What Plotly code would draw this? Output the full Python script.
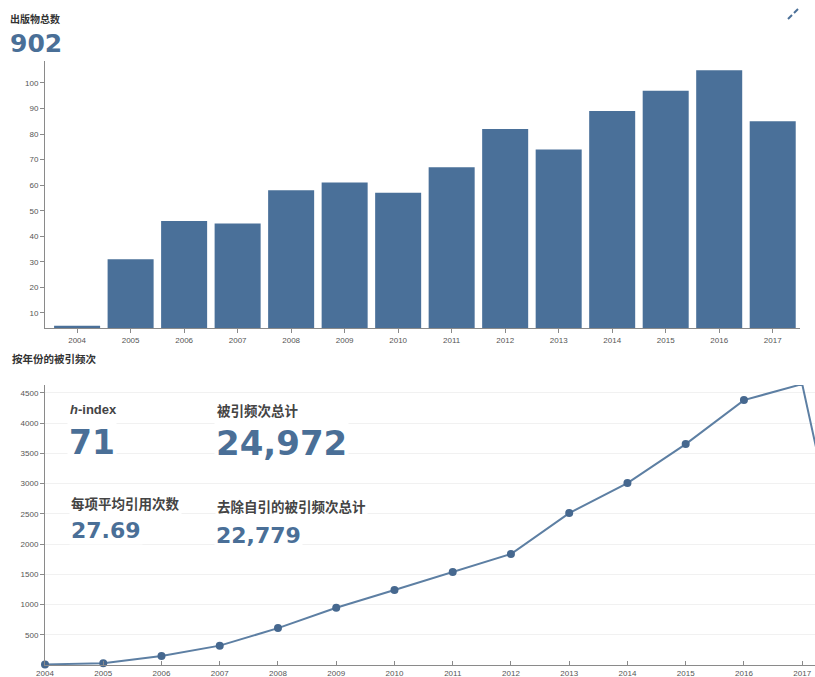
import plotly.graph_objects as go

W, H = 815, 677

# ---- data ----
pub_years = ["2004", "2005", "2006", "2007", "2008", "2009", "2010",
             "2011", "2012", "2013", "2014", "2015", "2016", "2017"]
pub_counts = [5, 31, 46, 45, 58, 61, 57, 67, 82, 74, 89, 97, 105, 85]

cite_years = [2004, 2005, 2006, 2007, 2008, 2009, 2010, 2011, 2012,
              2013, 2014, 2015, 2016, 2017, 2018]
cite_counts = [10, 30, 150, 320, 610, 947, 1240, 1537, 1835,
               2512, 3008, 3653, 4380, 4645, 250]

pub_ticks = [10, 20, 30, 40, 50, 60, 70, 80, 90, 100]
cite_ticks = [500, 1000, 1500, 2000, 2500, 3000, 3500, 4000, 4500]
cite_xticks = list(range(2004, 2018))

total_pubs = "902"
h_index = "71"
total_cites = "24,972"
avg_cites = "27.69"
nonself_cites = "22,779"

title_pubs = "出版物总数"
title_cites = "按年份的被引频次"
lbl_h = "<i>h</i>-index"
lbl_total = "被引频次总计"
lbl_avg = "每项平均引用次数"
lbl_nonself = "去除自引的被引频次总计"

# ---- styles ----
BAR = "#4a7099"
NUM = "#4a6f97"
LINE = "#5d7fa3"
MARK = "#46688f"
AX = "#8a8a8a"
TICKF = dict(family="Liberation Sans, Arial, sans-serif", size=8, color="#555")
CJK = "Noto Sans CJK SC, sans-serif"
HEAVY = "DejaVu Sans, Liberation Sans, sans-serif"


def px(x):
    return x / W


def py(y):
    return 1 - y / H


fig = go.Figure()

fig.add_trace(go.Bar(x=pub_years, y=pub_counts, marker=dict(color=BAR, line=dict(width=0)),
                     xaxis="x", yaxis="y", hoverinfo="skip"))

fig.add_trace(go.Scatter(x=cite_years, y=cite_counts, mode="lines",
                         line=dict(color=LINE, width=2), xaxis="x2", yaxis="y2",
                         hoverinfo="skip"))
fig.add_trace(go.Scatter(x=cite_years[:-1], y=cite_counts[:-1], mode="markers",
                         marker=dict(color=MARK, size=8), xaxis="x2", yaxis="y2",
                         cliponaxis=False, hoverinfo="skip"))

axis_common = dict(showline=True, linecolor=AX, linewidth=1,
                   tickcolor=AX, tickfont=TICKF, zeroline=False,
                   automargin=False)

fig.update_layout(
    width=W, height=H, autosize=False,
    margin=dict(l=0, r=0, t=0, b=0, pad=0),
    paper_bgcolor="white", plot_bgcolor="white",
    showlegend=False, bargap=0.14,
    xaxis=dict(domain=[px(45), px(800)], anchor="y", type="category",
               range=[-0.6, 13.51], showgrid=False, ticks="outside", ticklen=4,
               **axis_common),
    yaxis=dict(domain=[py(328), py(61)], anchor="x", range=[4.1, 108.6],
               tickvals=pub_ticks, showgrid=False, ticks="outside", ticklen=4,
               **axis_common),
    xaxis2=dict(domain=[px(45), px(815)], anchor="y2", range=[2004, 2017.22],
                tickvals=cite_xticks, ticktext=[str(v) for v in cite_xticks],
                showgrid=False, ticks="inside", ticklen=4, **axis_common),
    yaxis2=dict(domain=[py(665), py(385)], anchor="x2", range=[0, 4630],
                tickvals=cite_ticks, showgrid=True, gridcolor="#f1f1f1",
                ticks="outside", ticklen=4, **axis_common),
)

ann = []


def add(text, x, y, size, color, family, bg=None):
    d = dict(text=text, x=px(x), y=py(y), xref="paper", yref="paper",
             xanchor="left", yanchor="middle", showarrow=False,
             font=dict(size=size, color=color, family=family))
    if bg:
        d["bgcolor"] = bg
    ann.append(d)


add("<b>" + title_pubs + "</b>", 8, 19, 10, "#333", CJK)
add("<b>" + total_pubs + "</b>", 8, 43, 25, NUM, HEAVY)
add("<b>" + title_cites + "</b>", 10, 358, 10.5, "#333", CJK)

add("<b>" + lbl_h + "</b>", 68, 410, 13, "#444", "Liberation Sans, Arial, sans-serif", "white")
add("<b>" + h_index + "</b>", 67, 442, 33, NUM, HEAVY, "white")
add("<b>" + lbl_total + "</b>", 215, 410, 13.5, "#444", CJK, "white")
add("<b>" + total_cites + "</b>", 214, 443, 34, NUM, HEAVY, "white")
add("<b>" + lbl_avg + "</b>", 69, 503, 13.5, "#444", CJK, "white")
add("<b>" + avg_cites + "</b>", 69, 530, 22, NUM, HEAVY, "white")
add("<b>" + lbl_nonself + "</b>", 215, 506, 13.5, "#444", CJK, "white")
add("<b>" + nonself_cites + "</b>", 214, 535, 22, NUM, HEAVY, "white")

fig.update_layout(annotations=ann)

# small collapse icon at top right
fig.add_shape(type="line", xref="paper", yref="paper", x0=px(788), y0=py(19),
              x1=px(792), y1=py(15), line=dict(color=NUM, width=2))
fig.add_shape(type="line", xref="paper", yref="paper", x0=px(794), y0=py(13),
              x1=px(798), y1=py(9), line=dict(color=NUM, width=2))

fig.write_html("out.html", config={"displayModeBar": False})
